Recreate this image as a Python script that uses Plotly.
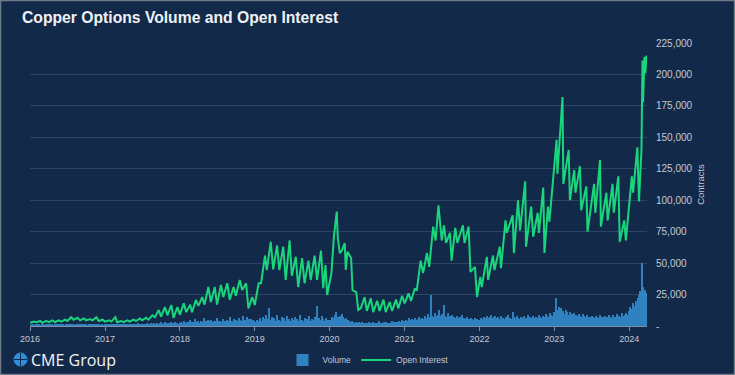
import pandas as pd
import plotly.graph_objects as go

# ---------------- data ----------------
oi_dates = [
    "2016-01-01","2016-01-20","2016-02-01","2016-02-20","2016-03-01","2016-03-20","2016-04-01","2016-04-20",
    "2016-05-01","2016-05-20","2016-06-01","2016-06-20","2016-07-01","2016-07-20","2016-08-01","2016-08-20",
    "2016-09-01","2016-09-20","2016-10-01","2016-10-20","2016-11-01","2016-11-20","2016-12-01","2016-12-20",
    "2017-01-01","2017-01-20","2017-02-01","2017-02-20","2017-03-01","2017-03-20","2017-04-01","2017-04-20",
    "2017-05-01","2017-05-20","2017-06-01","2017-06-20","2017-07-01","2017-07-20","2017-08-01","2017-08-20",
    "2017-09-01","2017-09-20","2017-10-01","2017-10-20","2017-11-01","2017-11-20","2017-12-01","2017-12-20",
    "2018-01-01","2018-01-20","2018-02-01","2018-02-20","2018-03-01","2018-03-20","2018-04-01","2018-04-20",
    "2018-05-01","2018-05-20","2018-06-01","2018-06-20","2018-07-01","2018-07-20","2018-08-01","2018-08-20",
    "2018-09-01","2018-09-20","2018-10-01","2018-10-20","2018-11-01","2018-11-20","2018-12-01","2018-12-20",
    "2019-01-01","2019-01-20","2019-02-01","2019-02-20","2019-03-01","2019-03-20","2019-04-01","2019-04-20",
    "2019-05-01","2019-05-20","2019-06-01","2019-06-20","2019-07-01","2019-07-20","2019-08-01","2019-08-20",
    "2019-09-01","2019-09-20","2019-10-01","2019-10-20","2019-11-01","2019-11-20","2019-12-01","2019-12-12",
    "2019-12-20","2020-01-10","2020-01-22","2020-02-05","2020-02-10","2020-02-20","2020-03-01","2020-03-15",
    "2020-03-20","2020-03-28","2020-04-15","2020-04-22","2020-05-10","2020-05-20","2020-06-01","2020-06-20",
    "2020-07-01","2020-07-20","2020-08-01","2020-08-20","2020-09-01","2020-09-20","2020-10-01","2020-10-20",
    "2020-11-01","2020-11-20","2020-12-01","2020-12-20",
    "2021-01-01","2021-01-20","2021-02-01","2021-02-20","2021-03-01","2021-03-20","2021-04-01","2021-04-20",
    "2021-05-01","2021-05-20","2021-06-01","2021-06-15","2021-07-01","2021-07-12","2021-07-22","2021-08-10",
    "2021-08-18","2021-09-05","2021-09-15","2021-10-12","2021-10-20","2021-11-09","2021-11-18","2021-12-10",
    "2021-12-20",
    "2022-01-05","2022-01-12","2022-02-06","2022-02-12","2022-03-08","2022-03-15","2022-04-10","2022-04-16",
    "2022-05-08","2022-05-14","2022-06-12","2022-06-18","2022-07-08","2022-07-18","2022-08-12","2022-08-16",
    "2022-09-10","2022-09-20","2022-10-12","2022-10-18","2022-11-08","2022-11-14","2022-12-01","2022-12-08",
    "2022-12-25",
    "2023-01-12","2023-01-16","2023-01-28","2023-02-10","2023-02-14","2023-02-22","2023-03-12","2023-03-18",
    "2023-04-08","2023-04-14","2023-05-06","2023-05-12","2023-06-06","2023-06-12","2023-07-14","2023-07-20",
    "2023-08-12","2023-08-16","2023-09-12","2023-09-18","2023-10-12","2023-10-18","2023-11-09","2023-11-16",
    "2023-12-08","2023-12-16",
    "2024-01-14","2024-01-20","2024-02-10","2024-02-18","2024-03-01","2024-03-06","2024-03-09","2024-03-16",
    "2024-03-20","2024-03-26",
]
oi_values = [
    2500,3500,3000,4000,2500,4000,3000,4500,
    3000,4500,3500,5000,4000,7000,5000,6500,
    4500,6000,4500,5500,4500,7000,4000,5000,
    3500,4500,3500,7000,3000,4000,3000,4500,
    3500,5000,4000,6000,4500,6500,5000,8500,
    7000,12700,7500,15000,8500,16700,6500,15000,
    9000,18000,11000,17000,11000,20700,16000,23000,
    17000,31000,19000,31000,17000,32600,23000,34000,
    21000,31000,24000,36600,28600,34000,14000,23000,
    16700,34000,34000,56000,44500,67000,45000,64000,
    44500,63000,36600,68000,40000,55000,31000,54000,
    34000,52000,36600,56000,36600,60000,30000,48500,
    24600,42000,71000,91000,70000,58000,60000,66000,
    44500,59000,54000,28600,27000,12700,14000,23000,
    12000,22000,11000,20000,12000,21000,11000,19000,
    12000,21000,14000,24000,
    18000,26000,20000,30000,28000,52000,42000,58000,
    47000,79000,68000,96000,68000,80000,66000,74000,
    52000,78000,66000,80000,66000,79000,43000,47000,
    23000,
    39000,31000,55000,36600,56000,44500,63000,46000,
    84000,74000,88000,58000,100000,76000,115000,63000,
    95000,71000,90000,74000,110000,58000,95000,83000,
    116000,
    148000,121000,153000,182000,113000,121000,140000,100000,
    124000,106000,127000,92000,111000,75000,113000,90000,
    132000,79000,106000,84000,113000,90000,119000,67000,
    84000,68000,
    119000,106000,142000,99000,140000,211000,178000,214000,
    201000,215000,
]

# weekly volume (weeks starting Monday), Jan 2016 .. Mar 2024
vol_2016 = [600,800,1200,700,900,1500,800,600,1000,1300,700,900,1100,800,1600,900,700,1200,1000,800,1400,900,1800,1100,700,1000,
            1300,800,900,1500,1000,700,1200,900,1100,800,1700,1000,900,1300,700,1000,1200,1500,900,800,1100,1300,900,700,1000,600]
vol_2017 = [800,1000,1400,900,1200,1700,900,1100,1500,1000,800,1300,1100,1600,1000,900,1400,1200,1800,1000,1300,1500,1100,2000,1200,1400,
            1700,1300,1600,2200,1400,1800,2500,1500,2000,1700,2400,1600,2100,2800,1900,2300,3000,2000,2600,2200,3200,2100,2500,2800,2000,1800]
vol_2018 = [2200,3000,2600,3800,2400,3300,2900,4500,2800,3500,3100,5200,3000,3700,2700,4200,3300,6000,3600,3100,4400,3800,5000,3400,4100,3700,
            6500,3900,4300,3500,5400,4000,3600,4800,4200,7000,4100,3800,5600,4500,4000,6200,4700,4300,8000,5000,4400,6800,5200,4600,5800,4900,4200]
vol_2019 = [3500,5000,4200,6500,4000,7500,5200,8500,5600,14000,4800,6800,4500,6400,4200,9000,5000,4300,7000,4600,6000,4000,8000,5200,4100,6200,
            4800,7000,3900,5600,4300,8800,5000,3800,6400,4600,5300,7600,4100,5800,4800,7400,4400,16000,6000,4700,7800,5200,4200,6600,5000,4000]
vol_2020 = [5000,7000,6000,9000,11000,7500,6500,8000,9500,7000,5500,6000,4500,4000,3500,3800,3000,2600,3400,2400,2900,2200,3200,2500,2000,2700,
            2300,3400,2100,2500,2900,2000,2600,2200,3600,2400,2100,2800,2500,3200,2200,2700,2600,3800,2800,2400,3500,3000,4200,3300,4600,3600]
vol_2021 = [3600,4800,4000,6000,4400,5400,4600,6600,5000,5600,7000,5200,6200,5400,7600,6000,9500,6800,24600,8000,7000,10500,7600,8500,12500,7800,
            9500,17000,8200,7200,10500,7600,6600,9000,7000,6300,8200,6400,7400,6000,8600,6300,5700,7200,5800,5400,6600,5500,5100,6300,5300,4800]
vol_2022 = [5000,6400,5500,7400,6000,8000,6400,7200,8600,6200,6800,7600,6300,7000,5600,7800,6400,5800,7200,6100,8800,6600,5900,11000,7000,6300,
            8200,6400,5800,7400,6100,8000,6600,6200,8600,6800,6100,7600,6400,7200,6600,8800,7000,6400,8000,7200,9400,7600,7300,10200,8800,8200]
vol_2023 = [11000,22000,13000,15500,10500,14000,12000,9800,13000,10800,9000,11500,9400,8200,10200,8600,7600,9600,8100,7200,9300,7800,7300,8800,7500,6800,
            8300,7100,6700,8100,7000,6500,8600,7100,6800,8000,6700,7300,8500,7000,6700,9000,7300,7000,9500,7800,7500,10000,8100,8600,10500,9000]
vol_2024 = [12000,15000,13500,18000,16000,20000,22000,25000,28000,50000,31000,29000,26000]

volume_values = vol_2016 + vol_2017 + vol_2018 + vol_2019 + vol_2020 + vol_2021 + vol_2022 + vol_2023 + vol_2024
volume_dates = pd.date_range("2016-01-04", periods=len(volume_values), freq="7D")

y_tickvals = [0, 25000, 50000, 75000, 100000, 125000, 150000, 175000, 200000, 225000]
y_ticktext = ["-", "25,000", "50,000", "75,000", "100,000", "125,000", "150,000", "175,000", "200,000", "225,000"]
x_tickvals = ["2016-01-01", "2017-01-01", "2018-01-01", "2019-01-01", "2020-01-01",
              "2021-01-01", "2022-01-01", "2023-01-01", "2024-01-01"]
x_ticktext = ["2016", "2017", "2018", "2019", "2020", "2021", "2022", "2023", "2024"]

# ---------------- style ----------------
BG = "#13294a"
GRID = "#2b4567"
GREEN = "#19d67c"
BLUE = "#39a0e6"
TXT = "#c3cad4"
FONT = "Liberation Sans, Arial, sans-serif"

W, H = 735, 375
ML, MR, MT, MB = 30, 88, 43, 49
PW, PH = W - ML - MR, H - MT - MB

def px_x(x):
    return (x - ML) / PW

def px_y(y):
    return (H - MB - y) / PH

fig = go.Figure()
fig.add_trace(go.Bar(
    x=volume_dates, y=volume_values, name="Volume",
    marker=dict(color=BLUE, line=dict(width=0)), opacity=0.75,
))
fig.add_trace(go.Scatter(
    x=oi_dates, y=oi_values, name="Open Interest", mode="lines",
    line=dict(color=GREEN, width=2),
))

fig.update_layout(
    width=W, height=H,
    margin=dict(l=ML, r=MR, t=MT, b=MB, autoexpand=False),
    paper_bgcolor=BG, plot_bgcolor=BG,
    font=dict(family=FONT, color=TXT, size=9),
    bargap=0,
    showlegend=True,
    legend=dict(orientation="h", xref="container", yref="container",
                x=368 / W, xanchor="center", y=1 - 360 / H, yanchor="middle",
                font=dict(size=8.5, color=TXT), bgcolor="rgba(0,0,0,0)", itemwidth=30),
    title=dict(text="<b>Copper Options Volume and Open Interest</b>", xref="container", yref="container",
               x=22 / W, xanchor="left", y=1 - 18 / H, yanchor="middle",
               font=dict(size=15.7, color="#eef1f4", family=FONT)),
    xaxis=dict(
        type="date", range=["2016-01-01", "2024-03-28"],
        tickvals=x_tickvals, ticktext=x_ticktext,
        showgrid=False, zeroline=False,
        showline=True, linecolor="#7f8ea3", linewidth=1,
        ticks="outside", ticklen=4, tickcolor="#7f8ea3",
        tickfont=dict(size=9, color=TXT),
    ),
    yaxis=dict(
        side="right", range=[0, 225000],
        tickvals=y_tickvals, ticktext=y_ticktext,
        showgrid=True, gridcolor=GRID, gridwidth=1, zeroline=False,
        ticks="outside", ticklen=6, tickcolor=BG,
        tickfont=dict(size=10, color=TXT),
        title=dict(text="Contracts", font=dict(size=9.5, color=TXT), standoff=5),
    ),
    shapes=[
        dict(type="rect", xref="paper", yref="paper",
             x0=px_x(0.5), x1=px_x(W - 0.5), y0=px_y(H - 0.5), y1=px_y(0.5),
             line=dict(color="#6c7a8c", width=1.5), layer="above"),
        dict(type="circle", xref="paper", yref="paper",
             x0=px_x(14), x1=px_x(27), y0=px_y(366), y1=px_y(353),
             fillcolor="#2a8fd8", line=dict(color="#2a8fd8", width=1)),
        dict(type="line", xref="paper", yref="paper",
             x0=px_x(14), x1=px_x(27), y0=px_y(359.5), y1=px_y(359.5),
             line=dict(color=BG, width=1)),
        dict(type="line", xref="paper", yref="paper",
             x0=px_x(20.5), x1=px_x(20.5), y0=px_y(366), y1=px_y(353),
             line=dict(color=BG, width=1)),
    ],
    annotations=[
        dict(text="CME Group", xref="paper", yref="paper", x=px_x(29), y=px_y(360),
             xanchor="left", yanchor="middle", showarrow=False,
             font=dict(size=16, color="#f2f4f7", family="Open Sans, Liberation Sans, sans-serif")),
    ],
)

fig.write_html("out.html",
               config={"displayModeBar": False},
               post_script="document.body.style.margin='0';document.body.style.padding='0';"
                           "document.documentElement.style.overflow='hidden';")
